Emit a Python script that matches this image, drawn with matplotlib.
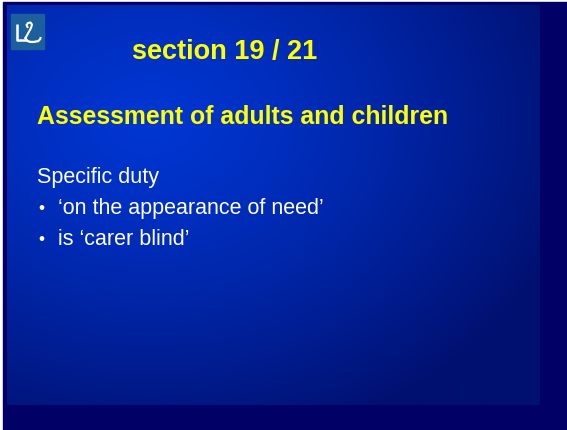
import numpy as np
import matplotlib
matplotlib.use("Agg")
import matplotlib.pyplot as plt
from matplotlib.patches import Rectangle

plt.rcParams['font.family'] = ['Liberation Sans', 'DejaVu Sans']

W, H = 567, 430

section_title = "section 19 / 21"
heading = "Assessment of adults and children"
intro = "Specific duty"
bullets = ["\u2018on the appearance of need\u2019", "is \u2018carer blind\u2019"]

YELLOW = "#ffff00"
NAVY = "#000066"

fig = plt.figure(figsize=(W / 100, H / 100), dpi=100)
fig.patch.set_facecolor("white")
ax = fig.add_axes([0, 0, 1, 1])
ax.axis("off")

# outer navy frame
ax.add_patch(Rectangle((3, 2), W - 3, H - 2, color=NAVY, zorder=0))

# radial gradient panel
x0, x1, y0, y1 = 7, 540, 5, 405
xs = np.linspace(x0, x1, 400)
ys = np.linspace(y0, y1, 300)
gx, gy = np.meshgrid(xs, ys)
r = np.sqrt(((gx - 150) / 440) ** 2 + ((gy - 120) / 340) ** 2)
t = np.clip(r, 0, 1) ** 1.3
inner = np.array([0, 54, 210]) / 255
outer = np.array([0, 16, 112]) / 255
img = inner[None, None, :] * (1 - t[..., None]) + outer[None, None, :] * t[..., None]
ax.imshow(img, extent=(x0, x1, y1, y0), zorder=1, aspect="auto", interpolation="bilinear")
ax.set_xlim(0, W)
ax.set_ylim(H, 0)

# logo
ax.add_patch(Rectangle((11, 14), 33, 35, color="#1d5f9c", zorder=2))
ax.plot([17, 17, 27], [24, 40, 40], color="white", lw=1.8, zorder=3, solid_capstyle="butt")
hook_x = [25.5, 31, 32, 30.5, 28, 26.5, 27.5]
hook_y = [38, 28, 24.5, 22.5, 23, 25, 27]
ax.plot(hook_x, hook_y, color="white", lw=1.5, zorder=3)
base_x = [25.5, 27, 30, 34, 38, 40, 40.5]
base_y = [38, 40.5, 42, 42, 41, 39.5, 38]
ax.plot(base_x, base_y, color="white", lw=1.5, zorder=3)
ax.plot([27, 38], [41, 41], color="white", lw=1.0, zorder=3)

ax.text(225, 59, section_title, color=YELLOW, fontsize=19.5, fontweight="bold",
        ha="center", va="baseline", zorder=4)
ax.text(37, 124, heading, color=YELLOW, fontsize=17.9, fontweight="bold",
        ha="left", va="baseline", zorder=4)
ax.text(37, 183, intro, color="white", fontsize=15.5, ha="left", va="baseline", zorder=4)
for i, b in enumerate(bullets):
    y = 214 + i * 31
    ax.text(38.5, y - 1, "\u2022", color="white", fontsize=12.5, ha="left", va="baseline", zorder=4)
    ax.text(58, y, b, color="white", fontsize=15.5, ha="left", va="baseline", zorder=4)

fig.savefig("out.png", dpi=100, facecolor=fig.get_facecolor())
